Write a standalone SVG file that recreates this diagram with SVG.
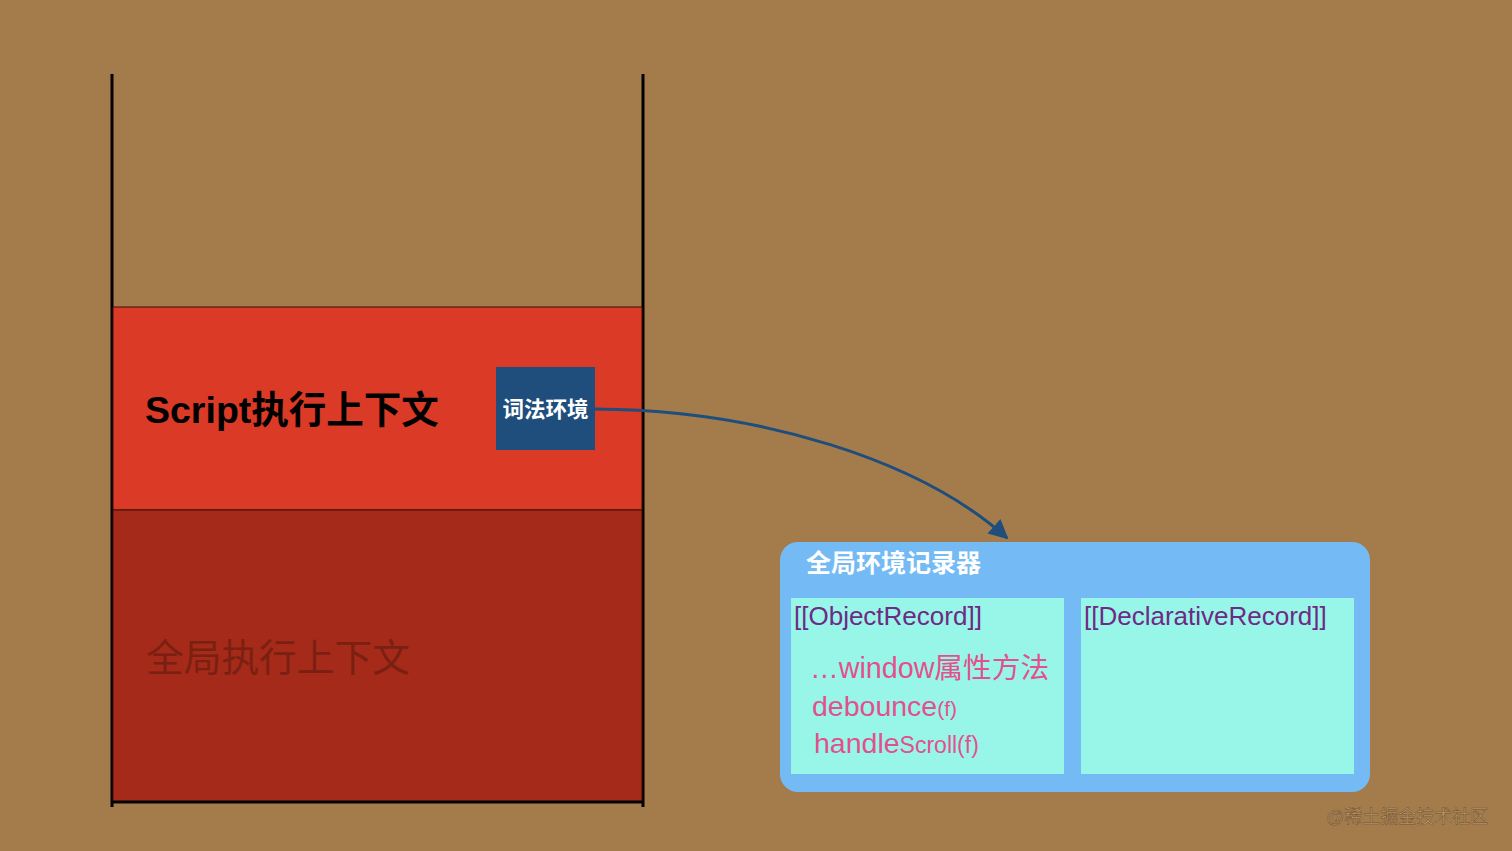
<svg xmlns="http://www.w3.org/2000/svg" width="1512" height="851" viewBox="0 0 1512 851">
<style>
.cjk{font-family:"Liberation Sans","Noto Sans CJK SC",sans-serif}
.rec{fill:#6E2A84;font-size:26px}
.pink{fill:#E2508D}
</style>
<defs>
<marker id="ah" viewBox="0 0 10 10" refX="9" refY="5" markerWidth="6.5" markerHeight="6.5" orient="auto" markerUnits="strokeWidth">
<path d="M0,0 L10,5 L0,10 z" fill="#1F4E7D"/>
</marker>
</defs>
<rect width="1512" height="851" fill="#A47C4C"/>
<g id="stack">
<line x1="112" y1="74" x2="112" y2="807" stroke="#000" stroke-width="3"/>
<line x1="643" y1="74" x2="643" y2="807" stroke="#000" stroke-width="3"/>
</g>
<g id="script-ctx">
<rect x="113" y="307" width="529" height="203" fill="#DA3A26" stroke="#3a1008" stroke-width="1"/>
<text class="cjk" x="145" y="423" font-size="37.5" font-weight="bold" fill="#000">Script执行上下文</text>
</g>
<g id="global-ctx">
<rect x="113" y="510" width="529" height="292" fill="#A52A19" stroke="#3a1008" stroke-width="1"/>
<line x1="112" y1="802" x2="643" y2="802" stroke="#000" stroke-width="3"/>
<text class="cjk" x="146" y="671" font-size="37.7" fill="#7A2012">全局执行上下文</text>
</g>
<g id="lex-env">
<rect x="496" y="367" width="99" height="83" fill="#1F4E7D"/>
<text class="cjk" x="545.5" y="417" font-size="21.5" font-weight="bold" fill="#fff" text-anchor="middle">词法环境</text>
</g>
<g id="connectors">
<path d="M595,409 C760,410 920,460 1007,538" fill="none" stroke="#1F4E7D" stroke-width="3" marker-end="url(#ah)"/>
</g>
<g id="global-record">
<rect x="780" y="542" width="590" height="250" rx="18" fill="#74BAF5"/>
<text class="cjk" x="806" y="572" font-size="25" font-weight="bold" fill="#fff">全局环境记录器</text>
</g>
<g id="object-record">
<rect x="791" y="598" width="273" height="176" fill="#98F6E8"/>
<text class="cjk rec" x="794" y="625">[[ObjectRecord]]</text>
<text class="cjk pink" x="810" y="678" font-size="28.7">…window属性方法</text>
<text class="cjk pink" x="812" y="716" font-size="28.5">debounce<tspan font-size="21">(f)</tspan></text>
<text class="cjk pink" x="814" y="753" font-size="28.5">handle<tspan font-size="23">Scroll(f)</tspan></text>
</g>
<g id="declarative-record">
<rect x="1081" y="598" width="273" height="176" fill="#98F6E8"/>
<text class="cjk rec" x="1084" y="625">[[DeclarativeRecord]]</text>
</g>
<text class="cjk" x="1326" y="823" font-size="18" fill="#BE9A6A" stroke="#6E5030" stroke-width="0.5">@稀土掘金技术社区</text>
</svg>
